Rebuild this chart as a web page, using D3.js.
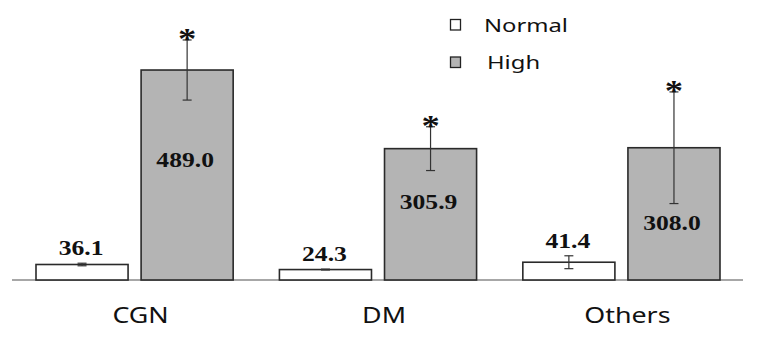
<!DOCTYPE html>
<html>
<head>
<meta charset="utf-8">
<title>Normal vs High</title>
<script src="https://cdn.jsdelivr.net/npm/d3@7/dist/d3.min.js"></script>
<style>
  body { margin: 0; background: #fff; }
  .num { font-family: "Liberation Serif", "Times New Roman", serif; font-weight: bold; fill: #111; }
  .cat { font-family: "Noto Sans", sans-serif; fill: #111; }
  .leg { font-family: "Noto Sans", sans-serif; fill: #111; }
</style>
</head>
<body>
<script>
var categories = ["CGN", "DM", "Others"];
var groups = ["Normal", "High"];
var normalValues = [36.1, 24.3, 41.4];
var highValues = [489.0, 305.9, 308.0];
var normalErr = [3, 1, 15];
var highErr = [70, 51, 130];
var significant = [true, true, true];

var width = 765, height = 339,
    baseY = 280, left = 36, right = 720,
    sx = 1.22; // picture is stretched sideways

var svg = d3.select("body").append("svg")
  .attr("width", width)
  .attr("height", height);

var x0 = d3.scaleBand().domain(categories).range([left, right]).paddingInner(0.19).paddingOuter(0);
var x1 = d3.scaleBand().domain(groups).range([0, x0.bandwidth()]).paddingInner(0.124);
var y = d3.scaleLinear().domain([0, 500]).range([baseY, baseY - 214.7]);

var rows = categories.map(function(c, i) {
  return [
    {cat: c, grp: "Normal", v: normalValues[i], e: normalErr[i], star: false},
    {cat: c, grp: "High", v: highValues[i], e: highErr[i], star: significant[i]}
  ];
});

function stretched(parent, x, yy, txt, cls, size) {
  parent.append("text")
    .attr("class", cls)
    .attr("transform", "translate(" + x + "," + yy + ") scale(" + sx + ",1)")
    .attr("text-anchor", "middle")
    .style("font-size", size + "px")
    .text(txt);
}

// baseline
svg.append("line")
  .attr("x1", 12).attr("x2", 743)
  .attr("y1", baseY).attr("y2", baseY)
  .attr("stroke", "#8a8a8a").attr("stroke-width", 1.5);

var g = svg.selectAll(".grp").data(rows).enter().append("g")
  .attr("class", "grp")
  .attr("transform", function(d) { return "translate(" + x0(d[0].cat) + ",0)"; });

g.selectAll("rect").data(function(d) { return d; }).enter().append("rect")
  .attr("x", function(d) { return x1(d.grp); })
  .attr("y", function(d) { return y(d.v); })
  .attr("width", x1.bandwidth())
  .attr("height", function(d) { return baseY - y(d.v); })
  .attr("fill", function(d) { return d.grp === "High" ? "#b4b4b4" : "#fff"; })
  .attr("stroke", "#2a2a2a")
  .attr("stroke-width", 1.6);

// error bars
g.each(function(d) {
  var sel = d3.select(this);
  d.forEach(function(r) {
    var cx = x1(r.grp) + x1.bandwidth() / 2;
    var top = y(r.v + r.e), bot = y(r.v - r.e);
    sel.append("line").attr("x1", cx).attr("x2", cx).attr("y1", top).attr("y2", bot)
      .attr("stroke", "#333").attr("stroke-width", 1.2);
    [top, bot].forEach(function(yy) {
      sel.append("line").attr("x1", cx - 4.5).attr("x2", cx + 4.5).attr("y1", yy).attr("y2", yy)
        .attr("stroke", "#333").attr("stroke-width", 1.2);
    });
    if (r.star) {
      stretched(sel, cx, top + 8, "*", "num", 30);
    }
    var label = r.v.toFixed(1);
    if (r.grp === "High") {
      var ly = Math.max(y(r.v * 0.54), y(r.v - r.e) + 26);
      stretched(sel, cx - 2, ly, label, "num", 21);
    } else {
      stretched(sel, cx - 1, y(r.v + r.e) - 8, label, "num", 21);
    }
  });
});

// category labels
categories.forEach(function(c) {
  stretched(svg, x0(c) + x0.bandwidth() / 2 + 6, 323, c, "cat", 22);
});

// legend
var leg = svg.append("g").attr("transform", "translate(450,19)");
groups.forEach(function(k, i) {
  var row = leg.append("g").attr("transform", "translate(0," + (i * 37.5) + ")");
  row.append("rect").attr("x", 0.5).attr("y", 0.5).attr("width", 10).attr("height", 10.5)
    .attr("fill", k === "High" ? "#b4b4b4" : "#fff")
    .attr("stroke", "#222").attr("stroke-width", 1.3);
  row.append("text").attr("class", "leg")
    .attr("transform", "translate(" + (i === 0 ? 34 : 37) + ",12.5) scale(1.36,1)")
    .style("font-size", "17.5px")
    .text(k);
});
</script>
</body>
</html>
